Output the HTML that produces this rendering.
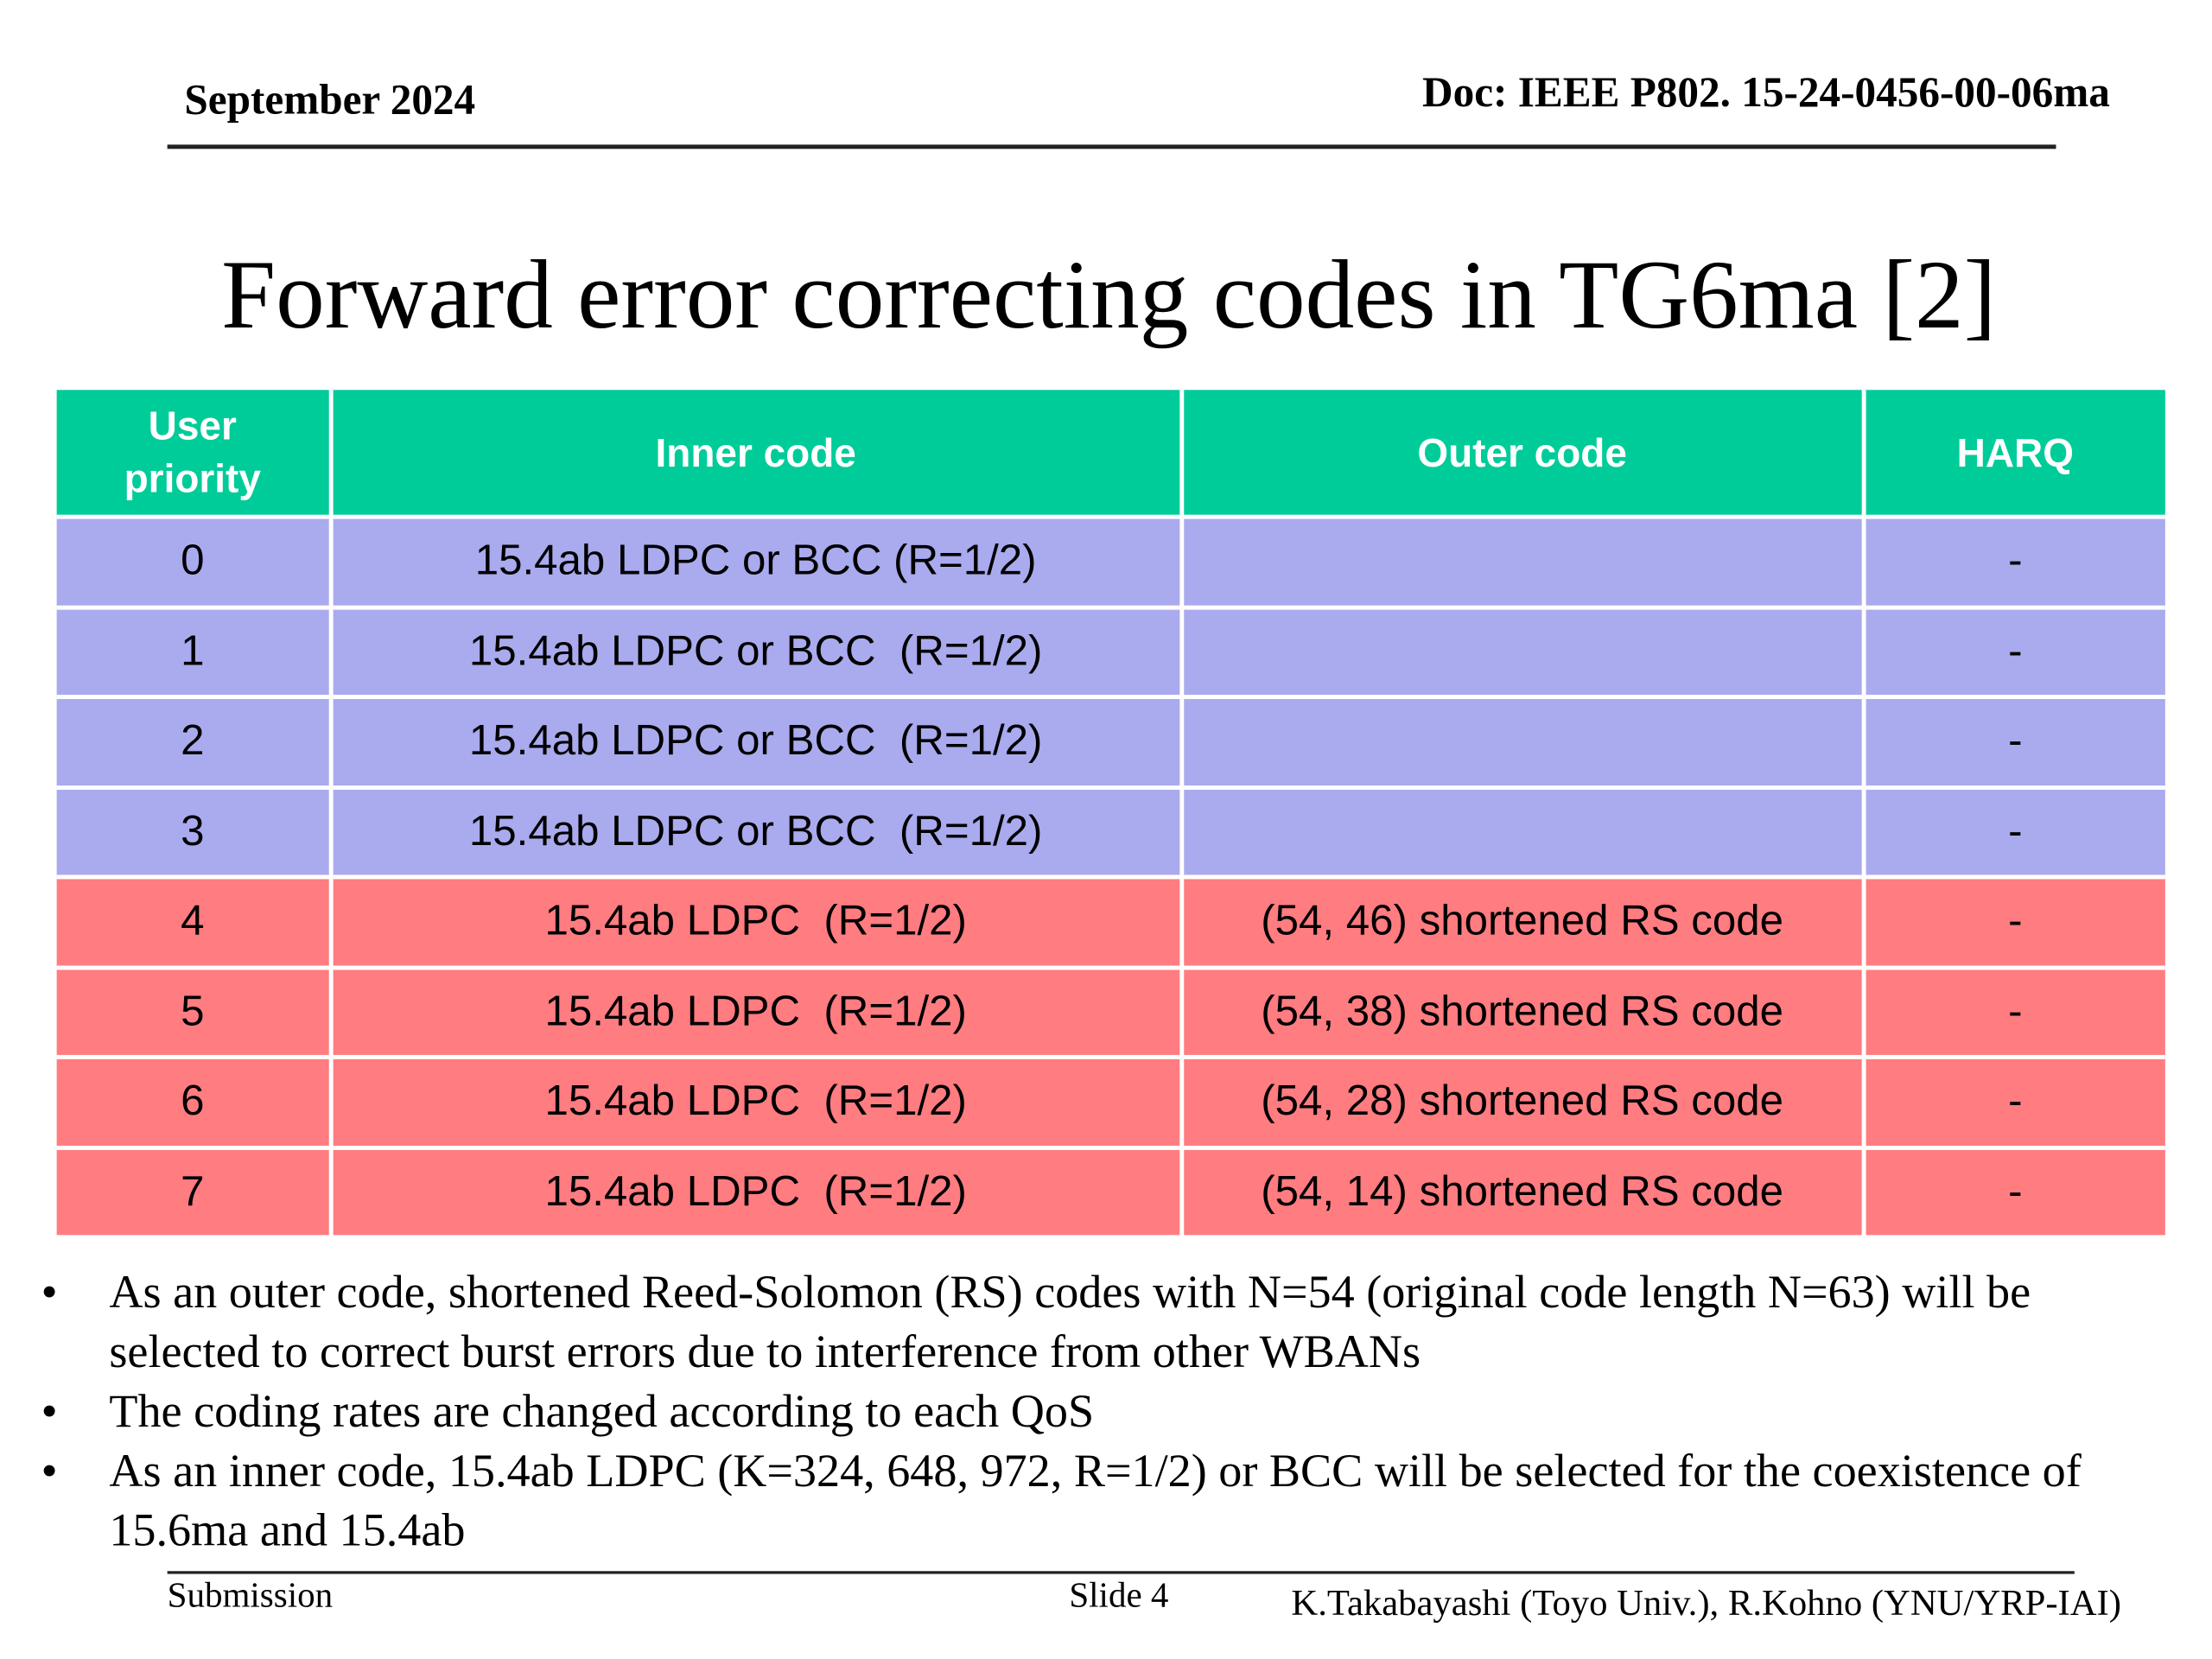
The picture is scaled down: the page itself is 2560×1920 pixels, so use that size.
<!DOCTYPE html>
<html><head><meta charset="utf-8"><style>
html,body{margin:0;padding:0;background:#fff;width:2560px;height:1920px;overflow:hidden}
#s{position:absolute;left:0;top:0;width:1560px;height:1170px;transform:scale(1.64103);transform-origin:0 0;font-family:"Liberation Serif",serif;color:#000}
.a{position:absolute;white-space:nowrap}
table{position:absolute;left:40px;top:275px;width:1487px;table-layout:fixed;border-collapse:collapse;font-family:"Liberation Sans",sans-serif;font-size:30px}
td{border:3px solid #fff;text-align:center;padding:0;height:60.5px}
th{border:3px solid #fff;background:#00CC99;color:#fff;font-weight:bold;font-size:28px;height:86px;line-height:37px}
tr:first-child th{border-top:0}
.p td{background:#AAAAEE}
.r td{background:#FF7C80}
td:first-child,th:first-child{border-left:0}
td:last-child,th:last-child{border-right:0}
.b{position:absolute;left:77px;font-size:33px;line-height:41.5px;width:1420px}
.b span{position:absolute;left:-48px}
</style></head><body>
<div id="s">
<div class="a" style="left:130px;top:54px;font-size:30px;font-weight:bold">September 2024</div>
<div class="a" style="right:72px;top:49px;font-size:30px;font-weight:bold">Doc: IEEE P802. 15-24-0456-00-06ma</div>
<div class="a" style="left:118px;top:102px;width:1332px;height:3px;background:#222"></div>
<div class="a" style="left:0;width:1564px;text-align:center;top:169px;font-size:69px">Forward error correcting codes in TG6ma [2]</div>
<table>
<colgroup><col style="width:193px"><col style="width:600px"><col style="width:481px"><col style="width:213px"></colgroup>
<tr><th>User<br>priority</th><th>Inner code</th><th>Outer code</th><th>HARQ</th></tr>
<tr class="p"><td>0</td><td>15.4ab LDPC or BCC (R=1/2)</td><td></td><td>-</td></tr>
<tr class="p"><td>1</td><td>15.4ab LDPC or BCC&nbsp; (R=1/2)</td><td></td><td>-</td></tr>
<tr class="p"><td>2</td><td>15.4ab LDPC or BCC&nbsp; (R=1/2)</td><td></td><td>-</td></tr>
<tr class="p"><td>3</td><td>15.4ab LDPC or BCC&nbsp; (R=1/2)</td><td></td><td>-</td></tr>
<tr class="r"><td>4</td><td>15.4ab LDPC&nbsp; (R=1/2)</td><td>(54, 46) shortened RS code</td><td>-</td></tr>
<tr class="r"><td>5</td><td>15.4ab LDPC&nbsp; (R=1/2)</td><td>(54, 38) shortened RS code</td><td>-</td></tr>
<tr class="r"><td>6</td><td>15.4ab LDPC&nbsp; (R=1/2)</td><td>(54, 28) shortened RS code</td><td>-</td></tr>
<tr class="r"><td>7</td><td>15.4ab LDPC&nbsp; (R=1/2)</td><td>(54, 14) shortened RS code</td><td>-</td></tr>
</table>
<div class="b" style="top:892px"><span>•</span>As an outer code, shortened Reed-Solomon (RS) codes with N=54 (original code length N=63) will be selected to correct burst errors due to interference from other WBANs</div>
<div class="b" style="top:976px"><span>•</span>The coding rates are changed according to each QoS</div>
<div class="b" style="top:1018px"><span>•</span>As an inner code, 15.4ab LDPC (K=324, 648, 972, R=1/2) or BCC will be selected for the coexistence of 15.6ma and 15.4ab</div>
<div class="a" style="left:118px;top:1108px;width:1345px;height:2px;background:#222"></div>
<div class="a" style="left:118px;top:1112px;font-size:25px">Submission</div>
<div class="a" style="left:754px;top:1112px;font-size:25px">Slide 4</div>
<div class="a" style="right:64px;top:1116px;font-size:26px">K.Takabayashi (Toyo Univ.), R.Kohno (YNU/YRP-IAI)</div>
</div>
</body></html>
